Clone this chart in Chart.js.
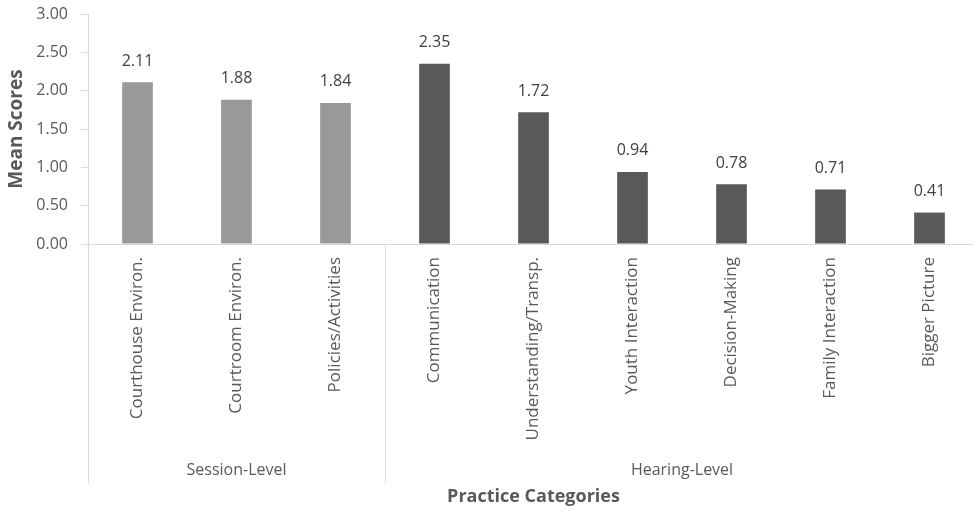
<!DOCTYPE html>
<html>
<head>
<meta charset="utf-8">
<script src="https://cdn.jsdelivr.net/npm/chart.js@4.4.0/dist/chart.umd.min.js"></script>
<style>
  html, body { margin: 0; padding: 0; background: #fff; overflow: hidden; }
  #wrap { width: 980px; height: 513px; }
</style>
</head>
<body>
<div id="wrap"><canvas id="scoreChart"></canvas></div>
<script>
// Chart data
const categories = [
  "Courthouse Environ.", "Courtroom Environ.", "Policies/Activities",
  "Communication", "Understanding/Transp.", "Youth Interaction",
  "Decision-Making", "Family Interaction", "Bigger Picture"
];
const meanScores = [2.11, 1.88, 1.84, 2.35, 1.72, 0.94, 0.78, 0.71, 0.41];
const groupNames = ["Session-Level", "Hearing-Level"];
const groupSizes = [3, 6];
const yTicks = [0, 0.5, 1, 1.5, 2, 2.5, 3];

const sessionColor = "#999999";
const hearingColor = "#595959";
const axisColor = "#d9d9d9";
const textColor = "#595959";
const fontFamily = "'Open Sans', sans-serif";

// bar colours follow the group each category belongs to
const barColors = [];
groupSizes.forEach((size, g) => {
  for (let i = 0; i < size; i++) {
    barColors.push(g === 0 ? sessionColor : hearingColor);
  }
});

// Draw value labels above each bar
const valueLabels = {
  id: "valueLabels",
  afterDatasetsDraw(chart) {
    const ctx = chart.ctx;
    const meta = chart.getDatasetMeta(0);
    ctx.save();
    ctx.font = "16px " + fontFamily;
    ctx.fillStyle = "#404040";
    ctx.textAlign = "center";
    ctx.textBaseline = "middle";
    meta.data.forEach((bar, i) => {
      ctx.fillText(meanScores[i].toFixed(2), bar.x, bar.y - 21);
    });
    ctx.restore();
  }
};

// Draw the group separators and group names under the category labels
const groupAxis = {
  id: "groupAxis",
  afterDraw(chart) {
    const ctx = chart.ctx;
    const x = chart.scales.x;
    const top = chart.chartArea.bottom;
    const lineBottom = top + 239;
    const half = (x.getPixelForValue(1) - x.getPixelForValue(0)) / 2;
    ctx.save();
    ctx.strokeStyle = axisColor;
    ctx.lineWidth = 1;
    ctx.font = "16px " + fontFamily;
    ctx.fillStyle = textColor;
    ctx.textAlign = "center";
    ctx.textBaseline = "middle";
    let start = 0;
    groupSizes.forEach((size, g) => {
      const left = x.getPixelForValue(start) - half;
      const right = x.getPixelForValue(start + size - 1) + half;
      [left, right].forEach((px) => {
        ctx.beginPath();
        ctx.moveTo(Math.round(px) + 0.5, top);
        ctx.lineTo(Math.round(px) + 0.5, lineBottom);
        ctx.stroke();
      });
      ctx.fillText(groupNames[g], (left + right) / 2, top + 226);
      start += size;
    });
    ctx.restore();
  }
};

const ctx = document.getElementById("scoreChart").getContext("2d");
new Chart(ctx, {
  type: "bar",
  data: {
    labels: categories,
    datasets: [{
      data: meanScores,
      backgroundColor: barColors,
      borderWidth: 0,
      barPercentage: 0.31,
      categoryPercentage: 1
    }]
  },
  options: {
    responsive: true,
    maintainAspectRatio: false,
    animation: false,
    layout: { padding: { top: 14, right: 1, bottom: 0, left: 0 } },
    plugins: {
      legend: { display: false },
      tooltip: { enabled: false }
    },
    scales: {
      x: {
        grid: { display: true, drawOnChartArea: false, drawTicks: false, color: axisColor },
        border: { display: true, color: axisColor, width: 1 },
        ticks: {
          color: textColor,
          font: { family: fontFamily, size: 17 },
          minRotation: 90,
          maxRotation: 90,
          padding: 13,
          autoSkip: false
        },
        title: {
          display: true,
          text: "Practice Categories",
          color: textColor,
          font: { family: fontFamily, size: 18, weight: "bold" },
          padding: { top: 0, bottom: 5 }
        },
        afterFit(scale) { scale.height = 269; }
      },
      y: {
        min: 0,
        max: 3,
        afterBuildTicks(scale) {
          scale.ticks = yTicks.map((v) => ({ value: v }));
        },
        grid: { display: true, drawOnChartArea: false, drawTicks: true, tickLength: 7, color: axisColor },
        border: { display: true, color: axisColor, width: 1 },
        ticks: {
          color: textColor,
          font: { family: fontFamily, size: 16 },
          padding: 13,
          callback: (v) => Number(v).toFixed(2)
        },
        title: {
          display: true,
          text: "Mean Scores",
          color: textColor,
          font: { family: fontFamily, size: 19, weight: "bold" },
          padding: { top: 5, bottom: 0 }
        },
        afterFit(scale) {
          scale.width = 88;
          scale.paddingTop = 0;
          scale.paddingBottom = 0;
        }
      }
    }
  },
  plugins: [valueLabels, groupAxis]
});
</script>
</body>
</html>
